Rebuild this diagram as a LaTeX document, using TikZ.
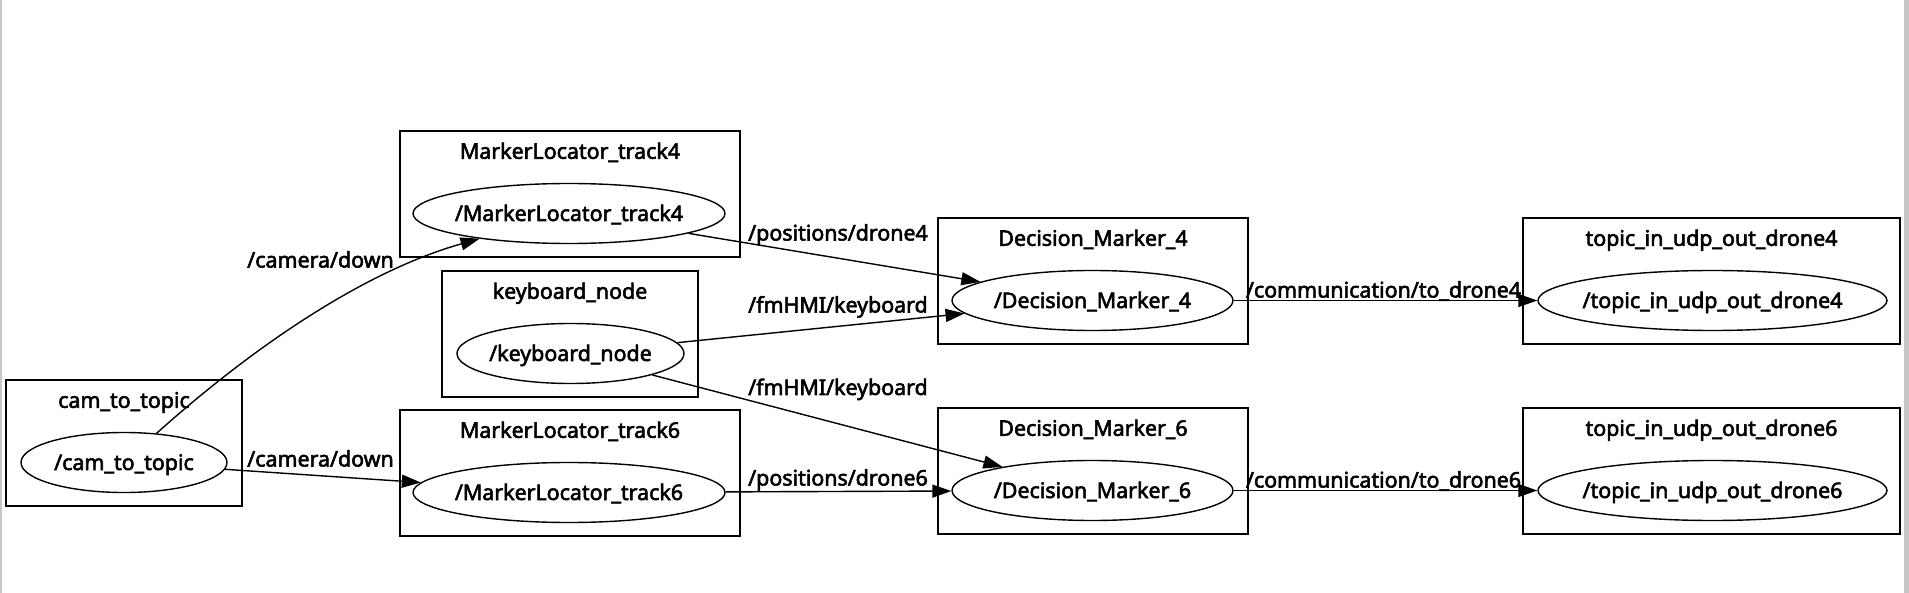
\documentclass[tikz,border=0pt]{standalone}
\usepackage{fontspec}
\setmainfont{Noto Sans}[FakeBold=2.6]
\usepackage{tikz}
\usetikzlibrary{arrows.meta,shapes.geometric}

\begin{document}
\begin{tikzpicture}[x=1pt,y=-1pt,
		graphfont/.style={font=\fontsize{21.4}{25}\selectfont,text height=15pt,text depth=0pt},
		clusterbox/.style={draw,line width=1.4pt,inner sep=0pt,minimum height=126pt},
		cltitle/.style={graphfont,inner sep=0pt},
		rosnode/.style={draw,ellipse,graphfont,line width=1.4pt,inner xsep=-40pt,inner ysep=0pt,minimum height=60pt},
		topiclabel/.style={graphfont,inner sep=0pt},
		pubarrow/.style={line width=1.4pt,-{Triangle[length=19pt,width=13pt]}}]
		% canvas in pixels, y pointing down
		\def\W{1909}
		\def\H{593}
		\def\off{21} % title below top of cluster
		\useasboundingbox (0,0) rectangle (\W,\H);
		\fill[black!22] (0,0) rectangle (2,\H);
		\fill[black!22] (1904,0) rectangle (\W,\H);
		
		% clusters
		\node[clusterbox,minimum width=236pt] (cambox) at (124,443) {};
		\node[clusterbox,minimum width=340pt] (ml4box) at (570,194) {};
		\node[clusterbox,minimum width=256pt] (kbbox) at (570,334) {};
		\node[clusterbox,minimum width=340pt] (ml6box) at (570,473) {};
		\node[clusterbox,minimum width=310pt] (dm4box) at (1093,281) {};
		\node[clusterbox,minimum width=310pt] (dm6box) at (1093,471) {};
		\node[clusterbox,minimum width=377pt] (udp4box) at (1711.5,281) {};
		\node[clusterbox,minimum width=377pt] (udp6box) at (1711.5,471) {};
		
		% cluster titles
		\node[cltitle] (camtitle) at ([yshift=-\off pt]cambox.north) {cam\_to\_topic};
		\node[cltitle] (ml4title) at ([yshift=-\off pt]ml4box.north) {MarkerLocator\_track4};
		\node[cltitle] (kbtitle) at ([yshift=-\off pt]kbbox.north) {keyboard\_node};
		\node[cltitle] (ml6title) at ([yshift=-\off pt]ml6box.north) {MarkerLocator\_track6};
		\node[cltitle] (dm4title) at ([yshift=-\off pt]dm4box.north) {Decision\_Marker\_4};
		\node[cltitle] (dm6title) at ([yshift=-\off pt]dm6box.north) {Decision\_Marker\_6};
		\node[cltitle] (udp4title) at ([yshift=-\off pt]udp4box.north) {topic\_in\_udp\_out\_drone4};
		\node[cltitle] (udp6title) at ([yshift=-\off pt]udp6box.north) {topic\_in\_udp\_out\_drone6};
		
		% ros nodes
		\node[rosnode,minimum width=206pt] (cam) at (124,462.5) {/cam\_to\_topic};
		\node[rosnode,minimum width=312pt] (ml4) at (569,213.5) {/MarkerLocator\_track4};
		\node[rosnode,minimum width=227pt] (kb) at (570.5,353.5) {/keyboard\_node};
		\node[rosnode,minimum width=312pt] (ml6) at (569,492.5) {/MarkerLocator\_track6};
		\node[rosnode,minimum width=281pt] (dm4) at (1092.5,300.5) {/Decision\_Marker\_4};
		\node[rosnode,minimum width=281pt] (dm6) at (1092.5,490.5) {/Decision\_Marker\_6};
		\node[rosnode,minimum width=349pt] (udp4) at (1712.5,300.5) {/topic\_in\_udp\_out\_drone4};
		\node[rosnode,minimum width=349pt] (udp6) at (1712.5,490.5) {/topic\_in\_udp\_out\_drone6};
		
		% topics
		\draw[pubarrow] (cam) .. controls (254,346) and (365,271) .. (ml4);
		\draw[pubarrow] (cam) -- (ml6);
		\draw[pubarrow] (ml4) -- (dm4);
		\draw[pubarrow] (kb) -- (dm4);
		\draw[pubarrow] (kb) -- (dm6);
		\draw[pubarrow] (ml6) -- (dm6);
		\draw[pubarrow] (dm4) -- (udp4);
		\draw[pubarrow] (dm6) -- (udp6);
		
		% topic names
		\node[topiclabel] (cd1) at (320.5,260) {/camera/down};
		\node[topiclabel] (cd2) at (320.5,459) {/camera/down};
		\node[topiclabel] (pos4) at (838,233) {/positions/drone4};
		\node[topiclabel] (kbd1) at (838,305) {/fmHMI/keyboard};
		\node[topiclabel] (kbd2) at (838,387.5) {/fmHMI/keyboard};
		\node[topiclabel] (pos6) at (838,478) {/positions/drone6};
		\node[topiclabel] (com4) at (1383.5,290) {/communication/to\_drone4};
		\node[topiclabel] (com6) at (1383.5,480) {/communication/to\_drone6};
	\end{tikzpicture}
\end{document}
